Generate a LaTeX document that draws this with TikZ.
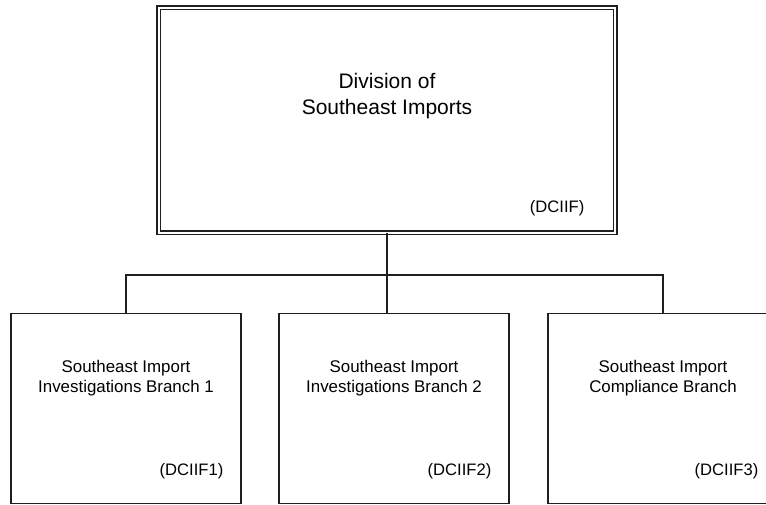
\documentclass[tikz,border=0pt]{standalone}
\usepackage{fontspec}
\setmainfont{Liberation Sans}
\begin{document}
\begin{tikzpicture}[x=1pt,y=-1pt,
  line color/.style={draw=black!88},
  topbox/.style={rectangle, line color, line width=1.5pt, double=white, double distance=2pt,
     minimum width=456.5pt, minimum height=224.7pt, inner sep=0pt, outer sep=0pt},
  branch/.style={rectangle, line color, line width=1.7pt, minimum width=230pt, minimum height=190pt,
     inner sep=0pt, outer sep=0pt},
  titletext/.style={align=center, font=\fontsize{21}{26}\selectfont, inner sep=0pt},
  brtext/.style={align=center, font=\fontsize{16.9}{20}\selectfont, inner sep=0pt},
  codetext/.style={font=\fontsize{16.6}{20}\selectfont, inner sep=0pt, anchor=east},
  link/.style={line color, line width=1.7pt}]
\useasboundingbox (0,0) rectangle (766,504);
\clip (0,0) rectangle (766,504);
\fill[white] (0,0) rectangle (766,504);

\node[topbox] (top) at (386.75,120.15) {};
\node[titletext] (ttl) at (387,96) {Division of\\Southeast Imports};
\node[codetext] (tcode) at (584.5,208) {(DCIIF)};

\node[branch] (b1) at (126,408.5) {};
\node[branch] (b2) at (394,408.5) {};
\node[branch] (b3) at (663,408.5) {};

\node[brtext] (t1) at (126,378.5) {Southeast Import\\Investigations Branch 1};
\node[brtext] (t2) at (394,378.5) {Southeast Import\\Investigations Branch 2};
\node[brtext] (t3) at (663,378.5) {Southeast Import\\Compliance Branch};

\node[codetext] (c1) at (223.5,471) {(DCIIF1)};
\node[codetext] (c2) at (491.5,471) {(DCIIF2)};
\node[codetext] (c3) at (758.5,471) {(DCIIF3)};

\coordinate (hub) at (387,275);
\draw[link] (top.south -| hub) -- (hub);
\draw[link] (b1.north) |- (hub) -| (b3.north);
\draw[link] (hub) -- (hub |- b2.north);
\end{tikzpicture}
\end{document}
